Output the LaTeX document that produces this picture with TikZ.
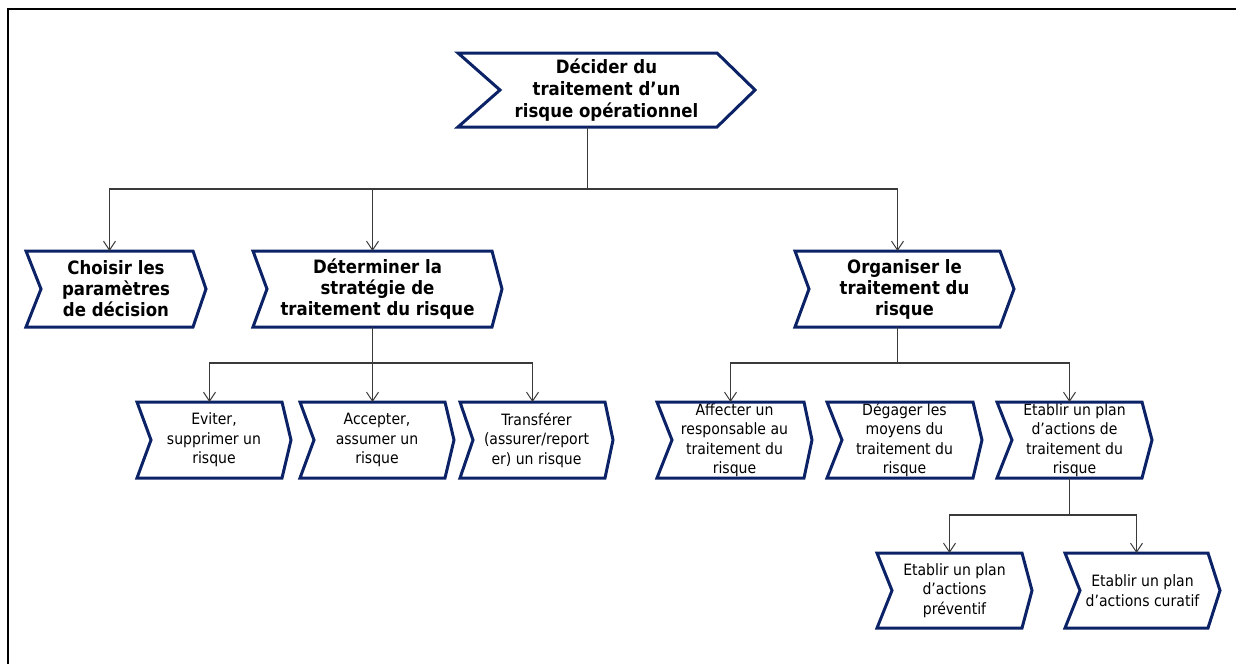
\documentclass[tikz,border=0pt]{standalone}
\usepackage{fontspec}
\setmainfont{DejaVu Sans Condensed}
\usetikzlibrary{arrows.meta,calc}
\definecolor{navy}{HTML}{0B2266}
\definecolor{conncol}{HTML}{3A3A3A}
\newcommand\ChevBox[8]{% #1 name, #2 center, #3 w, #4 h, #5 tip, #6 notch, #7 style, #8 text
  \node[#7] (#1) at (#2) {#8};
  \draw[chevline] ([shift={(-#3/2,-#4/2)}]#1.center) -- ++(#3-#5,0) -- ++(#5,#4/2) -- ++(-#5,#4/2) -- ++(-#3+#5,0) -- ++(#6,-#4/2) -- cycle;
  \coordinate (#1-top) at ([shift={(-#5/2,-#4/2)}]#1.center);
  \coordinate (#1-bot) at ([shift={(-#5/2,#4/2)}]#1.center);
}
\tikzset{
  chevline/.style={draw=navy, line width=3pt, line join=miter},
  bigtext/.style={inner sep=0pt, align=center, font=\fontsize{18.4}{22}\selectfont\bfseries},
  midtext/.style={inner sep=0pt, align=center, font=\fontsize{18.4}{21}\selectfont\bfseries},
  smalltext/.style={inner sep=0pt, align=center, font=\fontsize{15.6}{19.5}\selectfont},
  conn/.style={draw=conncol, line width=1.1pt},
  arr/.style={conn, -{Straight Barb[length=9pt,width=12pt,line width=1pt]}},
  frameline/.style={draw=black, line width=2pt}
}
\begin{document}
\begin{tikzpicture}[x=1pt,y=-1pt]
\useasboundingbox (0,0) rectangle (1236,664);
\draw[frameline] (7.5,664) -- (7.5,9) -- (1236,9);

\ChevBox{top}{606.5,90}{297}{74}{38}{42}{bigtext}{Décider du\\traitement d’un\\risque opérationnel}

\ChevBox{choisir}{116,289}{180}{76}{13}{15}{midtext}{Choisir les\\paramètres\\de décision}
\ChevBox{determiner}{377.5,289}{249}{76}{10}{14}{midtext}{Déterminer la\\stratégie de\\traitement du risque}
\ChevBox{organiser}{904.5,289}{219}{76}{14}{14}{midtext}{Organiser le\\traitement du\\risque}

\ChevBox{eviter}{214,440}{154}{76}{9}{14}{smalltext}{Eviter,\\supprimer un\\risque}
\ChevBox{accepter}{377,440}{154}{76}{9}{14}{smalltext}{Accepter,\\assumer un\\risque}
\ChevBox{transferer}{536.5,440}{153}{76}{8}{13}{smalltext}{Transférer\\(assurer/report\\er) un risque}

\ChevBox{affecter}{734.5,440}{155}{76}{8}{15}{smalltext}{Affecter un\\responsable au\\traitement du\\risque}
\ChevBox{degager}{904.5,440}{155}{76}{9}{15}{smalltext}{Dégager les\\moyens du\\traitement du\\risque}
\ChevBox{etablir}{1074.5,440}{155}{76}{10}{15}{smalltext}{Etablir un plan\\d’actions de\\traitement du\\risque}

\ChevBox{preventif}{954.5,590.5}{155}{75}{10}{15}{smalltext}{Etablir un plan\\d’actions\\préventif}
\ChevBox{curatif}{1142.5,590.5}{155}{75}{12}{15}{smalltext}{Etablir un plan\\d’actions curatif}

% connectors
\draw[conn] (top-bot) -- ++(0,62) coordinate (bus1);
\draw[arr] (bus1) -| (choisir-top);
\draw[arr] (bus1) -| (determiner-top);
\draw[arr] (bus1) -| (organiser-top);

\draw[conn] (determiner-bot) -- ++(0,36) coordinate (bus2);
\draw[arr] (bus2) -| (eviter-top);
\draw[arr] (bus2) -| (accepter-top);
\draw[arr] (bus2) -| (transferer-top);

\draw[conn] (organiser-bot) -- ++(0,36) coordinate (bus3);
\draw[arr] (bus3) -| (affecter-top);
\draw[arr] (bus3) -| (etablir-top);

\draw[conn] (etablir-bot) -- ++(0,37) coordinate (bus4);
\draw[arr] (bus4) -| (preventif-top);
\draw[arr] (bus4) -| (curatif-top);
\end{tikzpicture}
\end{document}
